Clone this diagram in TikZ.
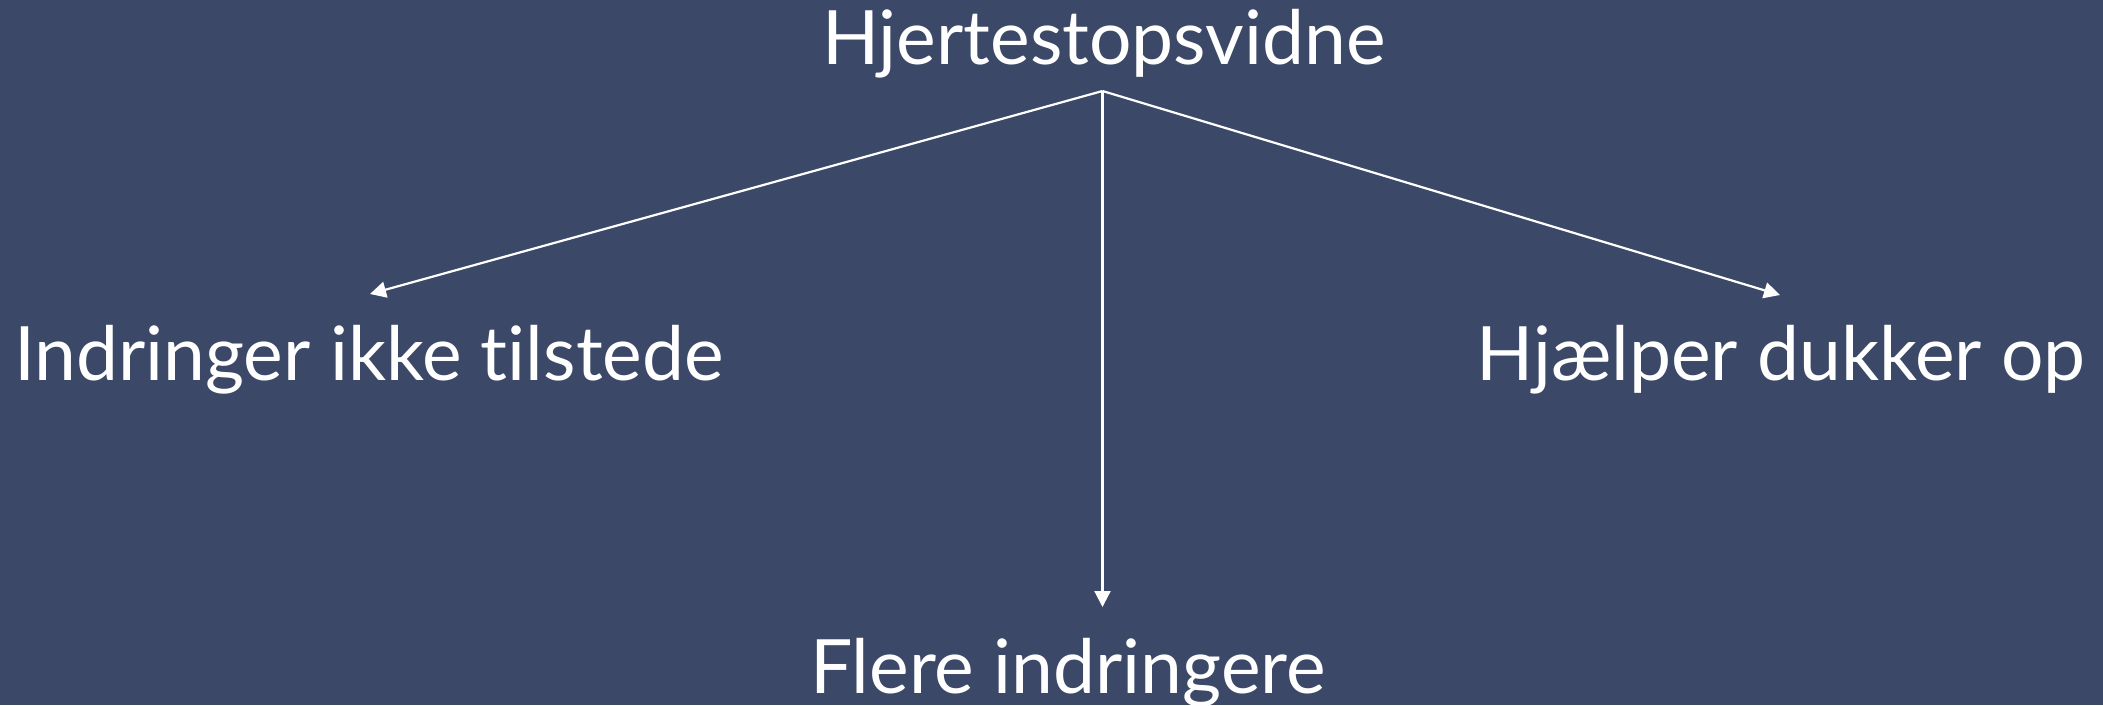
\documentclass[tikz,border=0pt]{standalone}
\usepackage{fontspec}
\setmainfont{Lato}[Ligatures={NoCommon,NoRare}]
\usetikzlibrary{arrows.meta}
\definecolor{bg}{RGB}{59,72,103}
\begin{document}
\begin{tikzpicture}[x=1pt,y=-1pt,
  lbl/.style={text=white,font=\fontsize{75}{88}\selectfont,inner sep=0pt,anchor=base},
  conn/.style={draw=white,line width=2.2pt,-{Triangle[length=16pt,width=16pt]}}]
\fill[bg] (0,0) rectangle (2103,705);
\useasboundingbox (0,0) rectangle (2103,705);
\node[lbl] (top) at (1104,64) {Hjertestopsvidne};
\node[lbl] (left) at (369,380) {Indringer ikke tilstede};
\node[lbl] (right) at (1781,380) {Hjælper dukker op};
\node[lbl] (bottom) at (1068,693) {Flere indringere};
\coordinate (apex) at (1102.5,91);
\coordinate (lt) at (370,294);
\coordinate (rt) at (1780,295);
\coordinate (bt) at (1102.5,607);
\draw[conn] (apex) -- (lt);
\draw[conn] (apex) -- (rt);
\draw[conn] (apex) -- (bt);
\end{tikzpicture}
\end{document}
